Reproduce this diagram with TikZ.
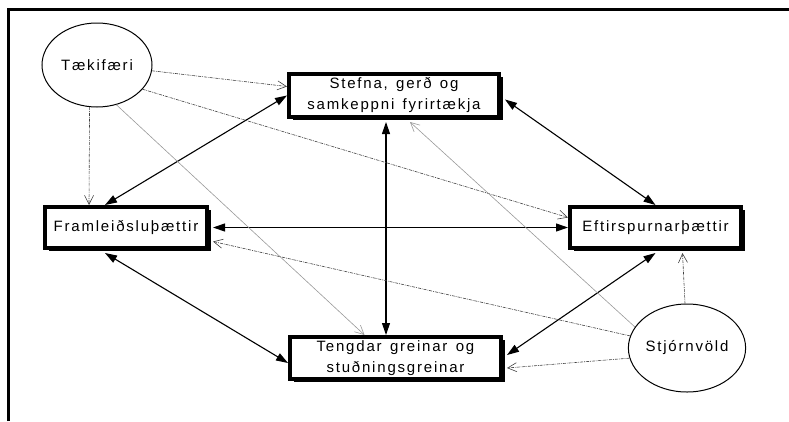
\documentclass[tikz,border=0pt]{standalone}
\usepackage{fontspec}
\setmainfont{Liberation Sans}
\newfontfamily\lblfont[LetterSpace=12,WordSpace=1.4]{Liberation Sans}
\usetikzlibrary{arrows.meta,shapes.geometric,shadows}

\begin{document}
\begin{tikzpicture}[x=1pt,y=-1pt,
  every node/.style={font=\lblfont\fontsize{15}{21}\selectfont, align=center},
  factor/.style={draw, line width=4pt, fill=white, rectangle, inner sep=0pt,
    drop shadow={shadow xshift=4pt, shadow yshift=-3pt, opacity=1, fill=black}},
  actor/.style={draw, ellipse, line width=1pt, inner sep=0pt,
    minimum width=110pt, minimum height=84pt},
  link/.style={line width=1.1pt,
    {Triangle[length=12pt,width=8pt]}-{Triangle[length=12pt,width=8pt]}},
  influence/.style={line width=0.6pt, black!75,
    dash pattern=on 3pt off 1pt on 0.8pt off 1pt,
    -{Straight Barb[length=9pt,width=9pt,line width=0.6pt]}},
  faint/.style={line width=0.6pt, black!40,
    -{Straight Barb[length=9pt,width=9pt,line width=0.6pt]}}
]
\useasboundingbox (0,0) rectangle (789,421);

% outer frame (top and left edges)
\draw[line width=3pt] (8.5,421) -- (8.5,9.5) -- (789,9.5);

% the four determinants
\node[factor, minimum width=210pt, minimum height=43pt] (stefna) at (394,95.5)
  {Stefna, gerð og\\samkeppni fyrirtækja};
\node[factor, minimum width=162pt, minimum height=41pt] (fram) at (126,227.5)
  {Framleiðsluþættir};
\node[factor, minimum width=171pt, minimum height=41pt] (eft) at (655.5,227.5)
  {Eftirspurnarþættir};
\node[factor, minimum width=211pt, minimum height=42pt] (teng) at (395.5,358)
  {Tengdar greinar og\\stuðningsgreinar};

% outside influences
\node[actor] (taek) at (97,65) {Tækifæri};
\node[actor, minimum width=114pt, minimum height=88pt] (stj) at (687,348) {Stjórnvöld};

% mutual links between the determinants
\draw[link] ([xshift=-21pt]fram.north) -- (stefna.west);
\draw[link] ([xshift=4pt,yshift=-4pt]stefna.east) -- (eft.north);
\draw[link] ([xshift=-8pt,yshift=-3pt]stefna.south) -- ([xshift=-9.5pt]teng.north);
\draw[link] ([xshift=4pt]fram.east) -- (eft.west);
\draw[link] ([xshift=-21pt,yshift=-3pt]fram.south) -- ([yshift=-5pt]teng.west);
\draw[link] ([yshift=-3pt]eft.south) -- ([xshift=4pt,yshift=3pt]teng.east);

% influence of chance
\draw[influence] (taek.-6) -- ([yshift=9pt]stefna.west);
\draw[influence] (taek.-28) -- ([yshift=10pt]eft.west);
\draw[influence] (taek.-100) -- ([xshift=-37pt]fram.north);
\draw[faint] (taek.-64) -- ([xshift=-31pt]teng.north);

% influence of government
\draw[faint] (stj.158) -- ([xshift=16pt,yshift=-3pt]stefna.south);
\draw[influence] (stj.168) -- ([xshift=4pt,yshift=-14pt]fram.east);
\draw[influence] (stj.190) -- ([xshift=4pt,yshift=-10pt]teng.east);
\draw[influence] ([xshift=-2pt]stj.north) -- ([xshift=27pt,yshift=-3pt]eft.south);
\end{tikzpicture}
\end{document}
